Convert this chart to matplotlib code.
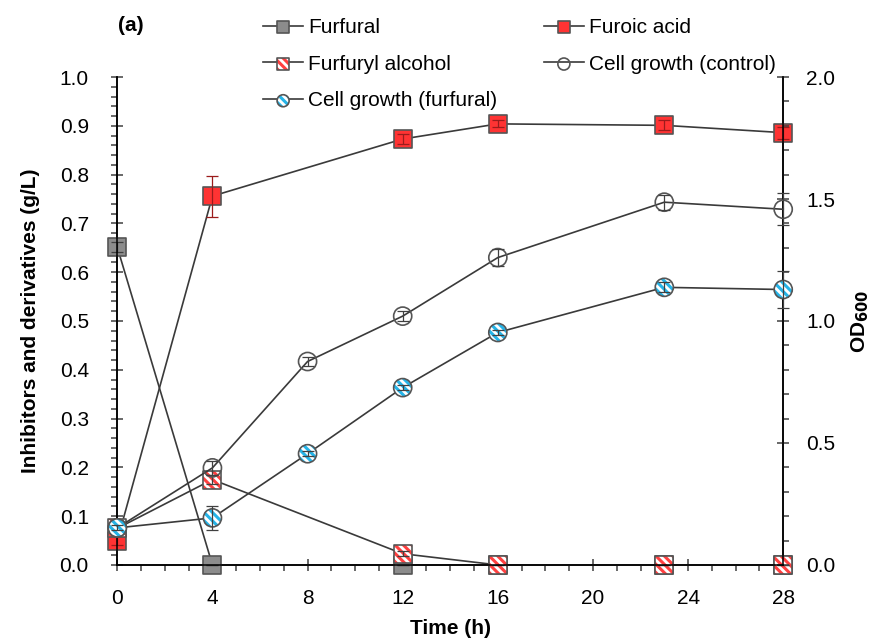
import numpy as np
import matplotlib.pyplot as plt
from matplotlib.lines import Line2D
from matplotlib.legend_handler import HandlerTuple
from matplotlib.ticker import MultipleLocator, FormatStrFormatter

# 描画設定
plt.rcParams['font.family'] = ['Liberation Sans', 'DejaVu Sans']
plt.rcParams['font.size'] = 15
plt.rcParams['hatch.linewidth'] = 2.2
plt.rcParams['axes.linewidth'] = 1.1

# データ
t_chem = [0, 4, 12, 16, 23, 28]
t_od = [0, 4, 8, 12, 16, 23, 28]

furfural = [0.651, 0.0, 0.0, 0.0, 0.0, 0.0]
furfural_err = [0.01, 0.0, 0.0, 0.0, 0.0, 0.0]
furoic = [0.05, 0.756, 0.873, 0.904, 0.901, 0.886]
furoic_err = [0.01, 0.042, 0.01, 0.007, 0.01, 0.012]
alcohol = [0.075, 0.175, 0.023, 0.0, 0.0, 0.0]
alcohol_err = [0.01, 0.01, 0.005, 0.0, 0.0, 0.0]

od_control = [0.152, 0.398, 0.834, 1.02, 1.26, 1.487, 1.458]
od_control_err = [0.01, 0.03, 0.02, 0.02, 0.035, 0.03, 0.065]
od_furfural = [0.152, 0.193, 0.456, 0.727, 0.953, 1.138, 1.129]
od_furfural_err = [0.01, 0.05, 0.01, 0.01, 0.01, 0.02, 0.075]

line_c = '#3a3a3a'
edge_c = '#555555'
HATCH = '\\\\\\\\'
S = 170      # marker size in plot
S_LEG = 75   # marker size in legend


def draw_series(ax, x, y, err, marker, face, hatch_c=None, ecolor='#404040', z=3):
    ax.plot(x, y, color=line_c, lw=1.2, zorder=z, clip_on=False)
    if hatch_c is not None:
        ax.scatter(x, y, s=S, marker=marker, facecolor='white', edgecolor=hatch_c,
                   hatch=HATCH, linewidth=0, zorder=z + 0.1, clip_on=False)
    ax.scatter(x, y, s=S, marker=marker, facecolor=face, edgecolor=edge_c,
               linewidth=1.2, zorder=z + 0.2, clip_on=False)
    ax.errorbar(x, y, yerr=err, fmt='none', ecolor=ecolor, elinewidth=0.9,
                capsize=4, capthick=0.9, zorder=z + 0.3, clip_on=False)


def legend_handle(ax, marker, face, hatch_c=None):
    parts = [Line2D([], [], color=line_c, lw=1.2)]
    if hatch_c is not None:
        parts.append(ax.scatter([], [], s=S_LEG, marker=marker, facecolor='white',
                                edgecolor=hatch_c, hatch=HATCH, linewidth=0))
    parts.append(ax.scatter([], [], s=S_LEG, marker=marker, facecolor=face,
                            edgecolor=edge_c, linewidth=1.2))
    return tuple(parts)


fig = plt.figure(figsize=(8.82, 6.42), dpi=100)
ax = fig.add_axes([0.133, 0.12, 0.755, 0.76])
ax2 = ax.twinx()

draw_series(ax, t_chem, furfural, furfural_err, 's', '#8c8c8c', z=3)
draw_series(ax, t_chem, furoic, furoic_err, 's', '#ff3333', ecolor='#9b1c1c', z=4)
draw_series(ax, t_chem, alcohol, alcohol_err, 's', 'none', hatch_c='#ff4040', z=5)

draw_series(ax2, t_od, od_control, od_control_err, 'o', 'none', z=3)
draw_series(ax2, t_od, od_furfural, od_furfural_err, 'o', 'none', hatch_c='#25b4e8', z=4)

# 軸
ax.set_xlim(0, 28)
ax.set_ylim(0, 1.0)
ax2.set_ylim(0, 2.0)
ax.xaxis.set_major_locator(MultipleLocator(4))
ax.xaxis.set_minor_locator(MultipleLocator(1))
ax.yaxis.set_major_locator(MultipleLocator(0.1))
ax.yaxis.set_minor_locator(MultipleLocator(0.02))
ax2.yaxis.set_major_locator(MultipleLocator(0.5))
ax2.yaxis.set_minor_locator(MultipleLocator(0.1))
ax.yaxis.set_major_formatter(FormatStrFormatter('%.1f'))
ax2.yaxis.set_major_formatter(FormatStrFormatter('%.1f'))

for a in (ax, ax2):
    a.spines['top'].set_visible(False)
    a.tick_params(which='major', direction='inout', length=9, width=1.1, color='#404040')
    a.tick_params(which='minor', direction='out', length=4, width=1.1, color='#404040')
ax.tick_params(axis='y', which='major', pad=16)
ax.tick_params(axis='x', which='major', pad=13)
ax2.tick_params(axis='y', which='major', pad=12)

ax.set_xlabel('Time (h)', fontweight='bold', labelpad=8)
ax.set_ylabel('Inhibitors and derivatives (g/L)', fontweight='bold', labelpad=14)
ax2.set_ylabel(r'OD$_\mathbf{600}$', fontweight='bold', labelpad=10)
fig.text(0.148, 0.96, '(a)', fontweight='bold', ha='center', va='center')

# 凡例
handles = [
    legend_handle(ax, 's', '#8c8c8c'),
    legend_handle(ax, 's', 'none', hatch_c='#ff4040'),
    legend_handle(ax2, 'o', 'none', hatch_c='#25b4e8'),
    legend_handle(ax, 's', '#ff3333'),
    legend_handle(ax2, 'o', 'none'),
]
labels = ['Furfural', 'Furfuryl alcohol', 'Cell growth (furfural)',
          'Furoic acid', 'Cell growth (control)']
fig.legend(handles, labels, ncol=2, loc='upper left', bbox_to_anchor=(0.282, 0.995),
           frameon=False, handlelength=1.9, handletextpad=0.25, labelspacing=0.85,
           columnspacing=2.25, borderaxespad=0.3,
           handler_map={tuple: HandlerTuple(ndivide=1, pad=0)})

fig.savefig('out.png', dpi=100)
